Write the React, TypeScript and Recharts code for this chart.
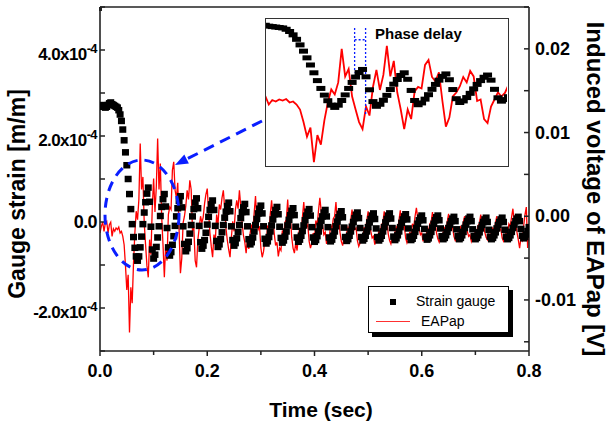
import React from "react";
import {
  ComposedChart,
  Line,
  XAxis,
  YAxis,
  Legend,
  ReferenceLine,
} from "recharts";

// recording sample interval (s)
const SAMPLE_DT = 0.0025;

// strain gauge, in units of 1e-4 m/m, one value per sample
const strainE4 = [
  2.7, 2.68, 2.72, 2.7, 2.66, 2.68, 2.72, 2.76, 2.78, 2.74, 2.72, 2.7, 2.68, 2.66, 2.6, 2.5, 2.35,
  2.15, 1.9, 1.62, 1.32, 1.0, 0.65, 0.3, -0.05, -0.35, -0.6, -0.8, -0.9,
  -0.8, -0.59, -0.34, -0.05, 0.22, 0.46, 0.66, 0.8, 0.47, -0.11, -0.64, -0.85,
  -0.76, -0.58, -0.36, -0.1, 0.14, 0.35, 0.53, 0.65, 0.36, -0.14, -0.59, -0.78,
  -0.7, -0.53, -0.33, -0.09, 0.13, 0.32, 0.49, 0.6, 0.34, -0.1, -0.51, -0.68,
  -0.61, -0.46, -0.27, -0.07, 0.13, 0.3, 0.45, 0.55, 0.32, -0.09, -0.47, -0.62,
  -0.55, -0.42, -0.25, -0.06, 0.12, 0.28, 0.41, 0.5, 0.28, -0.09, -0.44, -0.58,
  -0.52, -0.4, -0.24, -0.07, 0.1, 0.24, 0.37, 0.45, 0.25, -0.1, -0.42, -0.55,
  -0.49, -0.38, -0.23, -0.07, 0.09, 0.23, 0.34, 0.42, 0.23, -0.1, -0.4, -0.52,
  -0.47, -0.36, -0.22, -0.07, 0.07, 0.2, 0.31, 0.38, 0.2, -0.1, -0.39, -0.5,
  -0.45, -0.35, -0.22, -0.08, 0.06, 0.18, 0.28, 0.35, 0.18, -0.11, -0.37, -0.48,
  -0.43, -0.34, -0.22, -0.08, 0.05, 0.16, 0.26, 0.32, 0.16, -0.11, -0.36, -0.46,
  -0.41, -0.32, -0.21, -0.08, 0.04, 0.15, 0.24, 0.3, 0.15, -0.12, -0.36, -0.46,
  -0.42, -0.33, -0.22, -0.09, 0.03, 0.13, 0.22, 0.28, 0.13, -0.12, -0.36, -0.45,
  -0.41, -0.32, -0.22, -0.1, 0.01, 0.11, 0.19, 0.25, 0.11, -0.13, -0.35, -0.44,
  -0.4, -0.32, -0.22, -0.11, 0.0, 0.09, 0.17, 0.22, 0.09, -0.14, -0.35, -0.43,
  -0.39, -0.32, -0.22, -0.12, -0.01, 0.07, 0.15, 0.2, 0.07, -0.15, -0.35, -0.43,
  -0.39, -0.32, -0.22, -0.12, -0.01, 0.07, 0.15, 0.2, 0.08, -0.14, -0.34, -0.42,
  -0.38, -0.31, -0.22, -0.12, -0.02, 0.06, 0.13, 0.18, 0.06, -0.15, -0.34, -0.42,
  -0.39, -0.32, -0.23, -0.14, -0.04, 0.04, 0.1, 0.15, 0.04, -0.16, -0.34, -0.41,
  -0.38, -0.31, -0.23, -0.13, -0.04, 0.04, 0.11, 0.15, 0.04, -0.15, -0.33, -0.4,
  -0.37, -0.31, -0.23, -0.14, -0.06, 0.02, 0.08, 0.12, 0.02, -0.17, -0.33, -0.4,
  -0.37, -0.31, -0.23, -0.14, -0.06, 0.02, 0.08, 0.12, 0.02, -0.17, -0.33, -0.4,
  -0.37, -0.31, -0.24, -0.15, -0.07, 0.0, 0.06, 0.1, 0.0, -0.18, -0.34, -0.4,
  -0.37, -0.31, -0.24, -0.15, -0.07, 0.0, 0.06, 0.1, 0.0, -0.18, -0.34, -0.4,
  -0.37, -0.31, -0.23, -0.14, -0.06, 0.02, 0.08, 0.12, 0.02, -0.16, -0.32, -0.38,
  -0.35, -0.29, -0.21, -0.12,
];

// EAPap induced voltage, in mV, one value per sample
const voltageMV = [
  -2.0, -1.2, -0.7, -1.8, -0.8, -0.6, -2.0, -1.0, -0.7, -2.4, -1.5, -1.8, -1.4, -1.6, -1.3, -2.0, -1.8,
  -2.4, -3.4, -5.9, -8.8, -7.0, -13.9, -8.5, -10.4, -5.6, -2.0, 0.6, -0.4,
  2.0, 8.7, 3.2, 4.7, -0.8, -3.4, -5.9, -7.3, -2.8, -4.6, 1.1, 4.5,
  0.5, 3.5, 9.3, 3.2, 6.3, 0.0, -3.4, -7.3, -3.4, -5.3, 0.2, 1.1,
  0.8, 5.5, 6.5, 3.1, 2.2, 4.0, -1.7, -6.8, -5.0, -0.8, 0.0, 1.2,
  3.1, 2.0, 4.3, 3.2, -1.7, -1.4, -5.3, -6.1, -2.8, -1.4, 0.0, -0.8,
  -0.1, 1.5, 2.6, 3.3, 0.5, -2.0, -3.6, -4.9, -2.2, -3.0, 0.2, -1.0,
  1.4, 0.8, 2.2, 3.1, 1.0, -1.5, -2.9, -4.0, -4.9, -2.5, -0.6, -1.8,
  0.8, 1.9, 0.9, 3.1, 1.2, -0.8, -2.3, -3.1, -4.4, -2.7, -3.9, -2.0,
  -1.0, -1.7, 0.4, 2.4, -0.5, -1.6, -1.2, -3.8, -4.9, -4.2, -2.8, -3.5,
  -1.1, -1.8, 0.2, 1.9, -0.1, -2.1, -3.5, -3.1, -4.8, -3.8, -4.1, -1.7,
  -2.4, -0.7, -0.4, 2.0, -0.9, 0.1, -2.5, -3.8, -4.4, -3.2, -4.1, -2.3,
  -1.4, -2.0, -0.1, 1.7, -0.5, -1.3, -1.0, -3.0, -3.8, -3.2, -2.0, -2.6,
  -0.5, -1.1, 0.7, 2.2, 0.6, -1.1, -2.2, -1.9, -3.3, -2.6, -2.8, -1.0,
  -1.6, -0.3, 0.0, 1.7, -0.6, 0.1, -1.9, -3.0, -3.5, -2.6, -3.3, -2.0,
  -1.3, -1.8, -0.5, 0.8, -1.0, -1.6, -1.4, -2.9, -3.6, -3.2, -2.3, -2.8,
  -1.3, -1.7, -0.5, 0.6, -0.6, -1.8, -2.6, -2.4, -3.4, -2.8, -3.0, -1.6,
  -2.0, -1.0, -0.8, 0.6, -1.1, -0.6, -2.1, -2.9, -3.3, -2.5, -3.1, -1.9,
  -1.3, -1.7, -0.5, 0.7, -0.9, -1.4, -1.2, -2.6, -3.2, -2.8, -1.9, -2.4,
  -0.9, -1.3, 0.0, 1.0, -0.2, -1.4, -2.2, -2.0, -3.0, -2.5, -2.7, -1.4,
  -1.8, -0.9, -0.7, 0.5, -1.1, -0.6, -2.0, -2.7, -3.1, -2.4, -2.9, -1.9,
  -1.4, -1.7, -0.7, 0.3, -1.0, -1.5, -1.3, -2.4, -2.9, -2.6, -2.0, -2.3,
  -1.3, -1.6, -0.7, 0.0, -0.9, -1.8, -2.4, -2.2, -3.0, -2.5, -2.7, -1.6,
  -1.9, -1.1, -0.9, 0.2, -1.1, -0.7, -1.9, -2.5, -2.8, -2.2, -2.7, -1.8,
  -1.4, -1.7, -0.8, 0.0, -1.2, -1.7, -1.5, -2.6, -3.0, -2.6, -1.8, -2.2,
  -0.9, -1.2, -0.1, 0.9, -0.8, -0.3, -1.9, -2.8, -3.8, -2.6, -2.9, -1.2,
  0.2, 1.1, -3.8, -2.0,
];

const timeTicks = [0, 0.1, 0.2, 0.3, 0.4, 0.5, 0.6, 0.7, 0.8];
const strainTicks = [-0.0003, -0.0002, -0.0001, 0, 0.0001, 0.0002, 0.0003, 0.0004, 0.0005];
const voltageTicks = [-0.015, -0.01, -0.005, 0, 0.005, 0.01, 0.015, 0.02, 0.025];

const table = strainE4.map((s, i) => ({
  t: +(i * SAMPLE_DT).toFixed(4),
  strain: s * 1e-4,
  voltage: voltageMV[i] / 1000,
}));

// zoomed window shown in the inset
const insetWindow = [0.0205, 0.194];
const insetData = table.filter(
  (d) => d.t >= insetWindow[0] - SAMPLE_DT && d.t <= insetWindow[1] + SAMPLE_DT
);

const FONT = '"Liberation Sans", Arial, sans-serif';
const AXIS = "#222";
const BLUE = "#0a1eff";
const tickFont = { fontFamily: FONT, fontWeight: 700, fontSize: 18, fill: "#000" };

const BottomTick = ({ x, y, payload }: any) => {
  const n = Math.round(payload.value * 10);
  const major = n % 2 === 0;
  return (
    <g>
      <line x1={x} y1={y} x2={x} y2={y + (major ? 5 : 4)} stroke={AXIS} strokeWidth={1.5} />
      {major && (
        <text x={x} y={y + 26} textAnchor="middle" style={tickFont}>
          {payload.value.toFixed(1)}
        </text>
      )}
    </g>
  );
};

const TopTick = ({ x, y }: any) => (
  <line x1={x} y1={y} x2={x} y2={y + 4} stroke={AXIS} strokeWidth={1.5} />
);

const LeftTick = ({ x, y, payload }: any) => {
  const n = Math.round(payload.value * 1e4);
  const major = n % 2 === 0;
  const labelled = major && n >= -2 && n <= 4;
  return (
    <g>
      <line x1={x} y1={y} x2={x + 5} y2={y} stroke={AXIS} strokeWidth={1.5} />
      {labelled && n === 0 && (
        <text x={x - 3} y={y + 6} textAnchor="end" style={tickFont} letterSpacing={-0.6}>
          0.0
        </text>
      )}
      {labelled && n !== 0 && (
        <text x={x - 3} y={y + 9.5} textAnchor="end" style={{ ...tickFont, fontSize: 17 }} letterSpacing={-0.6}>
          {n.toFixed(1)}x10
          <tspan dy={-7} fontSize={13}>-4</tspan>
        </text>
      )}
    </g>
  );
};

const RightTick = ({ x, y, payload }: any) => {
  const n = Math.round(payload.value * 1000);
  const major = n % 10 === 0;
  return (
    <g>
      <line x1={x} y1={y} x2={x - 5} y2={y} stroke={AXIS} strokeWidth={1.5} />
      {major && (
        <text x={x + 6} y={y + 6} textAnchor="start" style={tickFont}>
          {payload.value.toFixed(2)}
        </text>
      )}
    </g>
  );
};

const squareDot = (p: any) =>
  p.cx == null ? null : (
    <rect key={`s${p.index}`} x={p.cx - 3.5} y={p.cy - 3.25} width={7} height={6.5} fill="#000" />
  );

const dashDot = (p: any) =>
  p.cx == null ? null : (
    <rect key={`d${p.index}`} x={p.cx - 4.5} y={p.cy - 2.5} width={9} height={5} fill="#000" />
  );

const LegendBox = () => (
  <div
    style={{
      position: "relative",
      width: 141,
      height: 47,
      boxSizing: "border-box",
      border: "1px solid #000",
      background: "#fff",
      boxShadow: "4px 4px 0 #000",
      fontFamily: FONT,
      fontSize: 14,
      color: "#000",
      lineHeight: "normal",
    }}
  >
    <span style={{ position: "absolute", left: 21, top: 12, width: 6, height: 6, background: "#000" }} />
    <span style={{ position: "absolute", left: 47, top: 6, whiteSpace: "nowrap" }}>Strain gauge</span>
    <span style={{ position: "absolute", left: 7, top: 34, width: 34, height: 1, background: "#ff3030" }} />
    <span style={{ position: "absolute", left: 52, top: 26 }}>EAPap</span>
  </div>
);

export default function App() {
  return (
    <div
      style={{
        position: "fixed",
        left: 0,
        top: 0,
        width: 609,
        height: 423,
        overflow: "hidden",
        fontFamily: FONT,
        background: "#fff",
      }}
    >
      <style>{"html,body{margin:0;overflow:hidden}"}</style>
      <ComposedChart width={609} height={423} data={table} margin={{ top: 6, right: 0, bottom: 0, left: 0 }}>
        <XAxis
          xAxisId="b"
          dataKey="t"
          type="number"
          domain={[0, 0.8]}
          ticks={timeTicks}
          interval={0}
          allowDataOverflow
          height={72}
          tickSize={0}
          tickMargin={0}
          tickLine={false}
          axisLine={{ stroke: AXIS, strokeWidth: 1.6 }}
          tick={<BottomTick />}
        />
        <XAxis
          xAxisId="top"
          orientation="top"
          type="number"
          domain={[0, 0.8]}
          ticks={timeTicks}
          interval={0}
          allowDataOverflow
          height={1}
          tickSize={0}
          tickMargin={0}
          tickLine={false}
          axisLine={{ stroke: AXIS, strokeWidth: 1.6 }}
          tick={<TopTick />}
        />
        <YAxis
          yAxisId="left"
          type="number"
          domain={[-0.0003, 0.0005]}
          ticks={strainTicks}
          interval={0}
          allowDataOverflow
          width={100}
          tickSize={0}
          tickMargin={0}
          tickLine={false}
          axisLine={{ stroke: AXIS, strokeWidth: 1.6 }}
          tick={<LeftTick />}
        />
        <YAxis
          yAxisId="right"
          orientation="right"
          type="number"
          domain={[-0.0161, 0.025]}
          ticks={voltageTicks}
          interval={0}
          allowDataOverflow
          width={80}
          tickSize={0}
          tickMargin={0}
          tickLine={false}
          axisLine={{ stroke: AXIS, strokeWidth: 1.6 }}
          tick={<RightTick />}
        />
        <Line
          xAxisId="b"
          yAxisId="left"
          dataKey="strain"
          name="Strain gauge"
          stroke="none"
          dot={squareDot}
          activeDot={false}
          isAnimationActive={false}
        />
        <Line
          xAxisId="b"
          yAxisId="right"
          dataKey="voltage"
          name="EAPap"
          type="linear"
          stroke="#ff0000"
          strokeWidth={1.3}
          dot={false}
          activeDot={false}
          isAnimationActive={false}
        />
        <Legend
          layout="vertical"
          verticalAlign="middle"
          align="center"
          wrapperStyle={{ left: 368, top: 286, width: 141, height: 47 }}
          content={<LegendBox />}
        />
      </ComposedChart>

      {/* zoomed inset */}
      <div
        style={{
          position: "absolute",
          left: 265,
          top: 18,
          width: 244,
          height: 149,
          boxSizing: "border-box",
          border: "1.5px solid #333",
          background: "#fff",
          overflow: "hidden",
        }}
      >
        <ComposedChart width={241} height={146} data={insetData} margin={{ top: 0, right: 0, bottom: 0, left: 0 }}>
          <XAxis dataKey="t" type="number" domain={insetWindow} allowDataOverflow hide />
          <YAxis yAxisId="left" type="number" domain={[-0.000348, 0.000306]} allowDataOverflow hide />
          <YAxis yAxisId="right" type="number" domain={[-0.01446, 0.01465]} allowDataOverflow hide />
          <Line
            yAxisId="left"
            dataKey="strain"
            stroke="none"
            dot={dashDot}
            activeDot={false}
            isAnimationActive={false}
          />
          <Line
            yAxisId="right"
            dataKey="voltage"
            type="linear"
            stroke="#ff0000"
            strokeWidth={1.8}
            dot={false}
            activeDot={false}
            isAnimationActive={false}
          />
          <ReferenceLine
            yAxisId="left"
            segment={[{ x: 0.0843, y: 0.000266 }, { x: 0.0843, y: 0.000066 }]}
            stroke={BLUE}
            strokeWidth={1.3}
            strokeDasharray="2 2"
          />
          <ReferenceLine
            yAxisId="left"
            segment={[{ x: 0.0922, y: 0.000266 }, { x: 0.0922, y: -0.000121 }]}
            stroke={BLUE}
            strokeWidth={1.3}
            strokeDasharray="2 2"
          />
          <ReferenceLine
            yAxisId="left"
            segment={[{ x: 0.0843, y: 0.000213 }, { x: 0.0922, y: 0.000213 }]}
            stroke={BLUE}
            strokeWidth={1.3}
            strokeDasharray="2 2"
          />
        </ComposedChart>
      </div>

      {/* annotations and axis titles */}
      <svg width={609} height={423} style={{ position: "absolute", left: 0, top: 0, pointerEvents: "none" }}>
        <ellipse cx={142} cy={215} rx={37} ry={55} fill="none" stroke={BLUE} strokeWidth={3} strokeDasharray="10 7" />
        <line x1={262} y1={121} x2={186.6} y2={159.1} stroke={BLUE} strokeWidth={3} strokeDasharray="11 7" />
        <polygon points="175,165 188.9,163.6 184.3,154.6" fill={BLUE} />
        <text x={375} y={39} style={{ fontFamily: FONT, fontWeight: 700, fontSize: 15 }}>
          Phase delay
        </text>
        <text
          x={24.5}
          y={194}
          transform="rotate(-90 24.5 194)"
          textAnchor="middle"
          style={{ fontFamily: FONT, fontWeight: 700, fontSize: 23 }}
        >
          Gauge strain [m/m]
        </text>
        <text
          x={587}
          y={189}
          transform="rotate(90 587 189)"
          textAnchor="middle"
          style={{ fontFamily: FONT, fontWeight: 700, fontSize: 24 }}
        >
          Induced voltage of EAPap [V]
        </text>
        <text x={321} y={417} textAnchor="middle" style={{ fontFamily: FONT, fontWeight: 700, fontSize: 21 }}>
          Time (sec)
        </text>
      </svg>
    </div>
  );
}
